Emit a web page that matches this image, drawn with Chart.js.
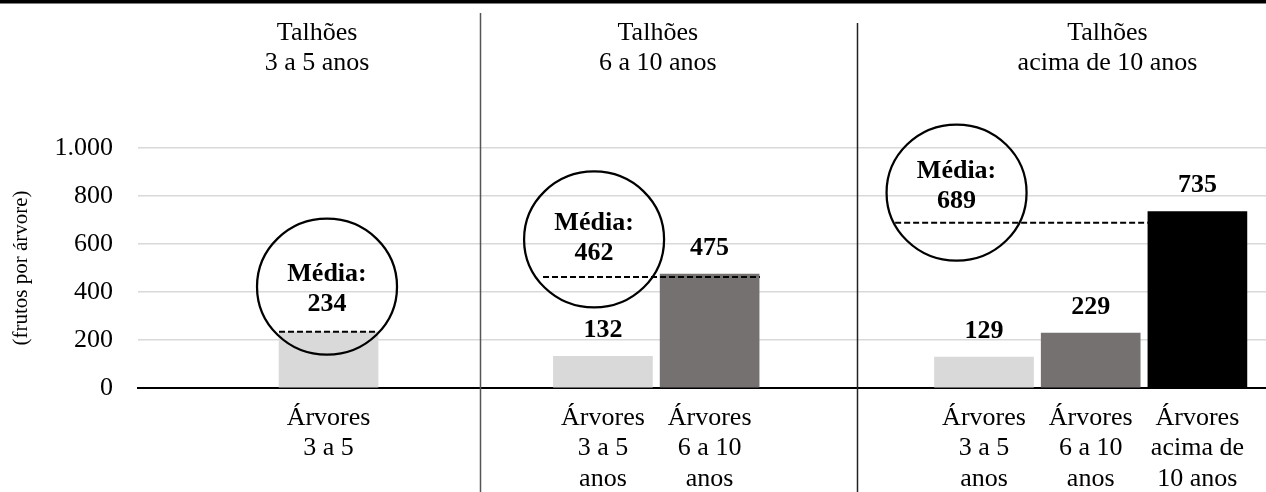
<!DOCTYPE html>
<html>
<head>
<meta charset="utf-8">
<title>Frutos por árvore</title>
<script src="https://cdn.jsdelivr.net/npm/chart.js@4.4.1/dist/chart.umd.min.js"></script>
<style>
    html, body { margin: 0; padding: 0; background: #fff; }
    #wrap { width: 1266px; height: 492px; }
</style>
</head>
<body>
<div id="wrap"><canvas id="chart"></canvas></div>
<script>
// data
const categories = [
    ['Árvores', '3 a 5'],
    ['Árvores', '3 a 5', 'anos'],
    ['Árvores', '6 a 10', 'anos'],
    ['Árvores', '3 a 5', 'anos'],
    ['Árvores', '6 a 10', 'anos'],
    ['Árvores', 'acima de', '10 anos']
];
const values = [234, 132, 475, 129, 229, 735];
const barAge = [0, 0, 1, 0, 1, 2];
const groupTitles = [
    ['Talhões', '3 a 5 anos'],
    ['Talhões', '6 a 10 anos'],
    ['Talhões', 'acima de 10 anos']
];
const groupMeans = [234, 462, 689];
const yTickLabels = ['0', '200', '400', '600', '800', '1.000'];
const yTitle = '(frutos por árvore)';
const meanLabel = 'Média:';

// layout (slot units on the category axis, values on the y axis)
const SERIF = "'Liberation Serif', 'Times New Roman', serif";
const slotCount = 74;
const barSlot = [12, 30, 37, 55, 62, 69];
const labelledBars = [1, 2, 3, 4, 5];
const ageColors = ['#d9d9d9', '#767171', '#000000'];
const dividers = [{ slot: 21.94, top: 13, color: '#555' }, { slot: 46.68, top: 23, color: '#222' }];
const titleSlot = [11.25, 33.6, 63.1];
const meanSpan = [[8.75, 15.25], [26.07, 40.3], [49.17, 65.75]];
const bubbles = [
    { slot: 11.9, y: 422, dy: 4 },
    { slot: 29.42, y: 619, dy: 0 },
    { slot: 53.2, y: 814, dy: -5 }
];

const slotLabels = Array(slotCount).fill('');
const slotValues = Array(slotCount).fill(null);
const slotColors = Array(slotCount).fill('transparent');
barSlot.forEach((s, i) => {
    slotLabels[s] = categories[i];
    slotValues[s] = values[i];
    slotColors[s] = ageColors[barAge[i]];
});

const overlay = {
    id: 'overlay',
    afterDatasetsDraw(chart) {
        const { ctx, scales: { x, y } } = chart;
        const meta = chart.getDatasetMeta(0);
        ctx.save();
        ctx.fillStyle = '#000';
        ctx.strokeStyle = '#000';
        ctx.textAlign = 'center';
        ctx.textBaseline = 'middle';
        ctx.font = 'bold 26px ' + SERIF;

        labelledBars.forEach(i => {
            const bar = meta.data[barSlot[i]];
            ctx.fillText(String(values[i]), bar.x, bar.y - 26);
        });

        // dashed mean lines
        ctx.lineWidth = 2;
        ctx.setLineDash([6, 3]);
        groupMeans.forEach((m, g) => {
            const py = y.getPixelForValue(m);
            ctx.beginPath();
            ctx.moveTo(x.getPixelForValue(meanSpan[g][0]), py);
            ctx.lineTo(x.getPixelForValue(meanSpan[g][1]), py);
            ctx.stroke();
        });

        // circles with the mean
        ctx.setLineDash([]);
        ctx.lineWidth = 2.25;
        bubbles.forEach((b, g) => {
            const cx = x.getPixelForValue(b.slot);
            const cy = y.getPixelForValue(b.y);
            ctx.beginPath();
            ctx.ellipse(cx, cy, 70, 68, 0, 0, Math.PI * 2);
            ctx.stroke();
            ctx.fillText(meanLabel, cx, cy - 16 + b.dy);
            ctx.fillText(String(groupMeans[g]), cx, cy + 14 + b.dy);
        });
        ctx.restore();
    },
    afterDraw(chart) {
        const { ctx, width, height, scales: { x } } = chart;
        ctx.save();
        ctx.fillStyle = '#000';
        ctx.fillRect(0, 0, width, 3.5);

        ctx.lineWidth = 1.5;
        dividers.forEach(d => {
            const px = Math.round(x.getPixelForValue(d.slot)) + 0.5;
            ctx.strokeStyle = d.color;
            ctx.beginPath();
            ctx.moveTo(px, d.top);
            ctx.lineTo(px, height);
            ctx.stroke();
        });

        ctx.font = '26px ' + SERIF;
        ctx.textAlign = 'center';
        ctx.textBaseline = 'middle';
        groupTitles.forEach((lines, g) => {
            const px = x.getPixelForValue(titleSlot[g]);
            lines.forEach((t, k) => ctx.fillText(t, px, 33 + k * 30));
        });
        ctx.restore();
    }
};

Chart.defaults.font.family = SERIF;
Chart.defaults.color = '#000';

const chart = new Chart(document.getElementById('chart'), {
    type: 'bar',
    data: {
        labels: slotLabels,
        datasets: [{
            data: slotValues,
            backgroundColor: slotColors,
            barThickness: 99,
            borderWidth: 0
        }]
    },
    options: {
        responsive: true,
        maintainAspectRatio: false,
        animation: false,
        layout: { padding: { top: 148, right: 0, bottom: 0, left: 0 } },
        plugins: {
            legend: { display: false },
            tooltip: { enabled: false }
        },
        scales: {
            x: {
                z: 1,
                grid: {
                    display: true,
                    drawOnChartArea: false,
                    drawTicks: true,
                    tickLength: 15,
                    color: 'rgba(0,0,0,0)'
                },
                border: { color: '#000', width: 2 },
                ticks: {
                    autoSkip: false,
                    maxRotation: 0,
                    minRotation: 0,
                    padding: 0,
                    color: '#000',
                    font: { size: 26, lineHeight: 1.17 }
                },
                afterFit: s => { s.height = 104; }
            },
            y: {
                min: 0,
                max: 1000,
                grid: { color: '#d9d9d9', lineWidth: 1.5, drawTicks: false },
                border: { display: false },
                ticks: {
                    stepSize: 200,
                    padding: 25,
                    color: '#000',
                    font: { size: 26 },
                    callback: (v, i) => yTickLabels[i]
                },
                title: {
                    display: true,
                    text: yTitle,
                    color: '#000',
                    font: { size: 21 },
                    padding: { top: 9, bottom: 0 }
                },
                afterFit: s => { s.width = 138; }
            }
        }
    },
    plugins: [overlay]
});
</script>
</body>
</html>
